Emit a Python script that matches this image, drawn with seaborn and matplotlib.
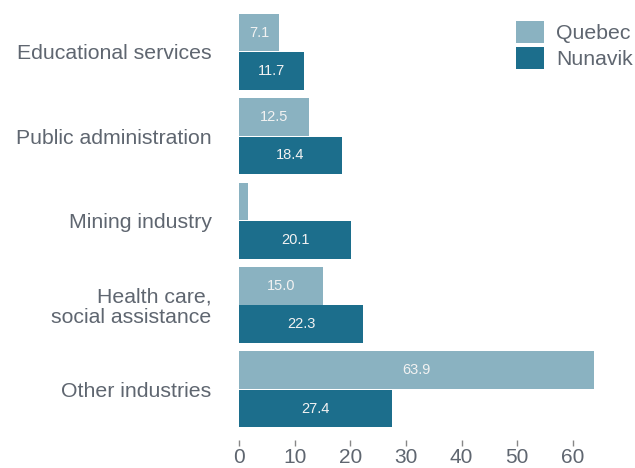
import matplotlib
matplotlib.use("Agg")
import matplotlib.pyplot as plt
import seaborn as sns
import pandas as pd
from matplotlib.patches import Patch

categories = ["Educational services", "Public administration", "Mining industry",
              "Health care,\nsocial assistance", "Other industries"]
quebec = [7.1, 12.5, 1.6, 15.0, 63.9]
nunavik = [11.7, 18.4, 20.1, 22.3, 27.4]
series = ["Quebec", "Nunavik"]
colors = ["#8ab2c1", "#1c6e8c"]
text_color = "#5f6670"

df = pd.DataFrame({
    "category": categories * 2,
    "value": quebec + nunavik,
    "region": [series[0]] * len(categories) + [series[1]] * len(categories),
})

sns.set_style("white")
plt.rcParams["font.family"] = ["Liberation Sans", "DejaVu Sans"]

fig = plt.figure(figsize=(6.35, 4.68), dpi=100)
top_px, bot_px = 1.1, 440.0
ax = fig.add_axes([239.3 / 635, 1 - bot_px / 468, (600 - 239.3) / 635, (bot_px - top_px) / 468])

sns.barplot(data=df, y="category", x="value", hue="region", orient="h",
            palette=colors, width=0.91, gap=0.02, ax=ax, errorbar=None,
            saturation=1, linewidth=0, legend=False)

for cont in ax.containers:
    labels = [f"{v:.1f}" if v >= 5 else "" for v in cont.datavalues]
    ax.bar_label(cont, labels=labels, label_type="center", color="#f2f2f2", fontsize=10.5)

ax.set_xlim(0, 64.9)
ax.set_ylim(4.6, -0.6)
ax.set_xlabel("")
ax.set_ylabel("")
for s in ax.spines.values():
    s.set_visible(False)
ax.set_xticks([0, 10, 20, 30, 40, 50, 60])
ax.tick_params(axis="x", colors="#888888", labelcolor=text_color, labelsize=15,
               length=4, width=1, bottom=True, pad=1.5)
ax.tick_params(axis="y", length=0, labelcolor=text_color, labelsize=15.3, pad=20)
for t in ax.get_yticklabels():
    t.set_horizontalalignment("right")
    t.set_multialignment("right")
    t.set_linespacing(1.05)

handles = [Patch(facecolor=c, edgecolor="none", label=s) for c, s in zip(colors, series)]
leg = fig.legend(handles=handles, loc="upper right", bbox_to_anchor=(633 / 635, 1 - 21 / 468),
                 frameon=False, fontsize=15.3, handlelength=1.3, handleheight=1.25,
                 handletextpad=0.6, labelspacing=0.15, borderaxespad=0.0, borderpad=0.0)
for t in leg.get_texts():
    t.set_color(text_color)

fig.savefig("out.png", dpi=100)
